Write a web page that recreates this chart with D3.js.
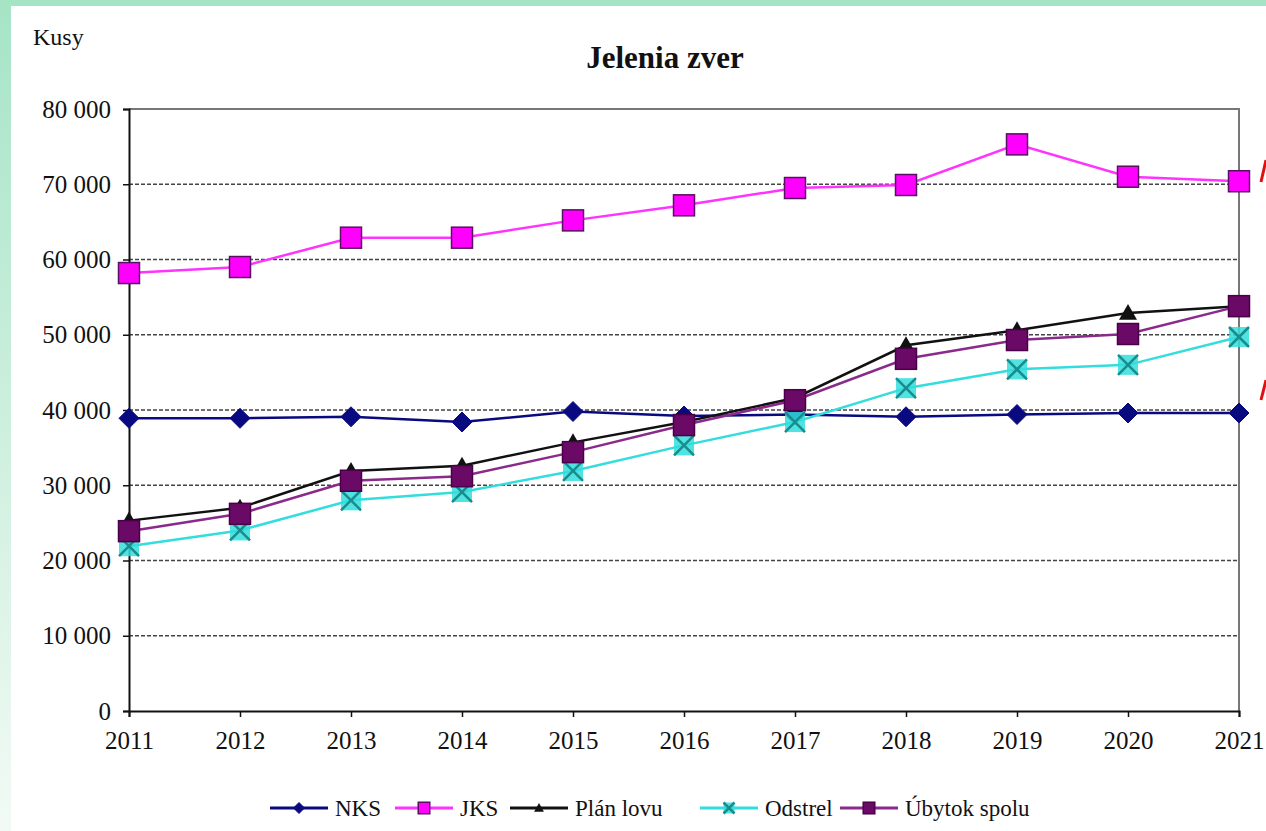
<!DOCTYPE html>
<html>
<head>
<meta charset="utf-8">
<script src="https://cdn.jsdelivr.net/npm/d3@7"></script>
<style>
  body { margin: 0; background: #fff; }
  svg text { font-family: "Liberation Serif", "Times New Roman", serif; fill: #111; }
</style>
</head>
<body>
<svg id="chart" width="1266" height="831"></svg>
<script>
// data
var years = [2011, 2012, 2013, 2014, 2015, 2016, 2017, 2018, 2019, 2020, 2021];
var nks = [38900, 38900, 39100, 38400, 39800, 39200, 39400, 39100, 39400, 39600, 39600];
var jks = [58200, 59000, 62900, 62900, 65200, 67200, 69500, 69900, 75300, 71000, 70400];
var planLovu = [25300, 27000, 31900, 32600, 35700, 38400, 41600, 48600, 50600, 52900, 53800];
var odstrel = [21900, 24000, 28000, 29100, 31900, 35300, 38400, 42900, 45400, 46000, 49700];
var ubytok = [23900, 26200, 30600, 31200, 34400, 38000, 41300, 46800, 49300, 50100, 53800];
var yTicks = [0, 10000, 20000, 30000, 40000, 50000, 60000, 70000, 80000];

var series = [
    { name: "NKS", values: nks, line: "#0a0a80", fill: "#0a0a80", stroke: "#0a0a80", marker: "diamond" },
    { name: "JKS", values: jks, line: "#ff33ff", fill: "#ff00ff", stroke: "#5a1060", marker: "square" },
    { name: "Plán lovu", values: planLovu, line: "#111111", fill: "#111111", stroke: "#111111", marker: "triangle" },
    { name: "Odstrel", values: odstrel, line: "#33dddd", fill: "#33dddd", stroke: "#1a8c8c", marker: "cross" },
    { name: "Úbytok spolu", values: ubytok, line: "#8a2a8a", fill: "#6a0a66", stroke: "#4a0048", marker: "square" }
];

var svg = d3.select("#chart");

// green slide background
var defs = svg.append("defs");
var grad = defs.append("linearGradient").attr("id", "bgGrad")
    .attr("x1", 0).attr("y1", 0).attr("x2", 0).attr("y2", 1);
grad.append("stop").attr("offset", "0%").attr("stop-color", "#a6e4c6");
grad.append("stop").attr("offset", "100%").attr("stop-color", "#f2faf5");
svg.append("rect").attr("width", 1266).attr("height", 831).attr("fill", "url(#bgGrad)");
svg.append("rect").attr("x", 11).attr("y", 6).attr("width", 1255).attr("height", 825).attr("fill", "#fff");

var margin = { left: 129, top: 109, right: 1239, bottom: 711 };

var x = d3.scalePoint()
    .domain(years)
    .range([margin.left, margin.right]);

var y = d3.scaleLinear()
    .domain([0, 80000])
    .range([margin.bottom, margin.top]);

var fmt = function(d) { return d3.format(",")(d).replace(/,/g, " "); };

// gridlines
svg.append("g").selectAll("line")
    .data(yTicks.filter(function(d) { return d > 0 && d < 80000; }))
    .enter().append("line")
    .attr("x1", margin.left).attr("x2", margin.right)
    .attr("y1", function(d) { return y(d); }).attr("y2", function(d) { return y(d); })
    .attr("stroke", "#444").attr("stroke-width", 1.3).attr("stroke-dasharray", "4,2");

// plot border (top and right)
svg.append("path")
    .attr("d", "M" + margin.left + "," + y(80000) + "H" + margin.right + "V" + margin.bottom)
    .attr("fill", "none").attr("stroke", "#777").attr("stroke-width", 2);

// y axis
var yAxis = svg.append("g")
    .attr("transform", "translate(" + margin.left + ",0)")
    .call(d3.axisLeft(y).tickValues(yTicks).tickFormat(fmt).tickSize(6).tickPadding(12));
yAxis.select(".domain").attr("stroke", "#111").attr("stroke-width", 2);
yAxis.selectAll(".tick line").attr("stroke", "#111").attr("stroke-width", 1.5);
yAxis.selectAll("text").attr("font-size", 25).attr("fill", "#222")
    .style("font-family", "'Liberation Serif', serif");

// x axis
var xAxis = svg.append("g")
    .attr("transform", "translate(0," + margin.bottom + ")")
    .call(d3.axisBottom(x).tickSize(6).tickPadding(14));
xAxis.select(".domain").attr("stroke", "#111").attr("stroke-width", 2);
xAxis.selectAll(".tick line").attr("stroke", "#111").attr("stroke-width", 1.5);
xAxis.selectAll("text").attr("font-size", 25).attr("fill", "#222")
    .style("font-family", "'Liberation Serif', serif");

// marker shapes
function drawMarker(g, s, cx, cy, scale) {
    var k = scale || 1;
    if (s.marker === "diamond") {
        var r = 10 * k;
        g.append("path")
            .attr("d", "M" + cx + "," + (cy - r) + "L" + (cx + r) + "," + cy + "L" + cx + "," + (cy + r) + "L" + (cx - r) + "," + cy + "Z")
            .attr("fill", s.fill).attr("stroke", s.stroke);
    } else if (s.marker === "square") {
        var h = 10.5 * k;
        g.append("rect")
            .attr("x", cx - h).attr("y", cy - h).attr("width", 2 * h).attr("height", 2 * h)
            .attr("fill", s.fill).attr("stroke", s.stroke).attr("stroke-width", 1.5);
    } else if (s.marker === "triangle") {
        var t = 9 * k;
        g.append("path")
            .attr("d", "M" + cx + "," + (cy - t) + "L" + (cx + t) + "," + (cy + t * 0.75) + "L" + (cx - t) + "," + (cy + t * 0.75) + "Z")
            .attr("fill", s.fill);
    } else if (s.marker === "cross") {
        var c = 10 * k;
        g.append("rect")
            .attr("x", cx - c).attr("y", cy - c).attr("width", 2 * c).attr("height", 2 * c)
            .attr("fill", s.fill).attr("opacity", 0.85);
        g.append("path")
            .attr("d", "M" + (cx - c) + "," + (cy - c) + "L" + (cx + c) + "," + (cy + c) + "M" + (cx + c) + "," + (cy - c) + "L" + (cx - c) + "," + (cy + c))
            .attr("stroke", s.stroke).attr("stroke-width", 2.5);
    }
}

var line = d3.line()
    .x(function(d, i) { return x(years[i]); })
    .y(function(d) { return y(d); });

// series lines and markers
series.forEach(function(s) {
    var g = svg.append("g").attr("class", "series");
    g.append("path")
        .datum(s.values)
        .attr("d", line)
        .attr("fill", "none")
        .attr("stroke", s.line)
        .attr("stroke-width", 2.5);
    s.values.forEach(function(v, i) {
        drawMarker(g, s, x(years[i]), y(v));
    });
});

// titles
svg.append("text")
    .attr("x", 665).attr("y", 68)
    .attr("text-anchor", "middle")
    .attr("font-size", 31).attr("font-weight", "bold")
    .text("Jelenia zver");

svg.append("text")
    .attr("x", 33).attr("y", 45)
    .attr("font-size", 24)
    .text("Kusy");

// legend
var legendX = [270, 395, 510, 700, 840];
var legend = svg.append("g").attr("class", "legend");
series.forEach(function(s, i) {
    var lx = legendX[i], ly = 808;
    var g = legend.append("g");
    g.append("line")
        .attr("x1", lx).attr("x2", lx + 58)
        .attr("y1", ly).attr("y2", ly)
        .attr("stroke", s.line).attr("stroke-width", 3);
    drawMarker(g, s, lx + 29, ly, 0.55);
    g.append("text")
        .attr("x", lx + 65).attr("y", ly + 8)
        .attr("font-size", 23)
        .text(s.name);
});

// red arrow stubs at the right edge
[[1261, 182, 1266, 160], [1261, 400, 1266, 380]].forEach(function(p) {
    svg.append("path")
        .attr("d", "M" + p[0] + "," + p[1] + "L" + p[2] + "," + p[3])
        .attr("stroke", "#e01010").attr("stroke-width", 3);
});
</script>
</body>
</html>
